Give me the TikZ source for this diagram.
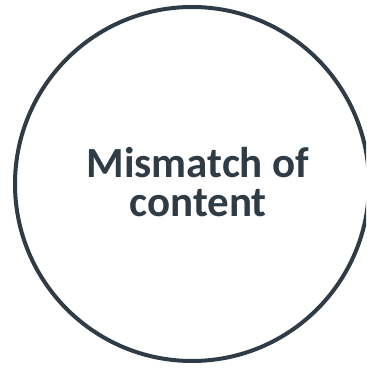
\documentclass[tikz,border=0pt]{standalone}
\usepackage{fontspec}
\setmainfont{Carlito}
\definecolor{ink}{HTML}{2F3B45}
\tikzset{ring/.style={draw=ink, line width=4pt, circle, minimum size=354pt, inner sep=0pt},
  label/.style={text=ink, font=\bfseries\fontsize{43}{39}\selectfont, align=center}}
\begin{document}
\begin{tikzpicture}[x=1pt,y=1pt]
\useasboundingbox (0,0) rectangle (366,371);
\clip (0,0) rectangle (366,371);
\node[ring] (c) at (192,187) {};
\node[label, anchor=base] (t) at (198,154) {Mismatch of\\content};
\end{tikzpicture}
\end{document}
